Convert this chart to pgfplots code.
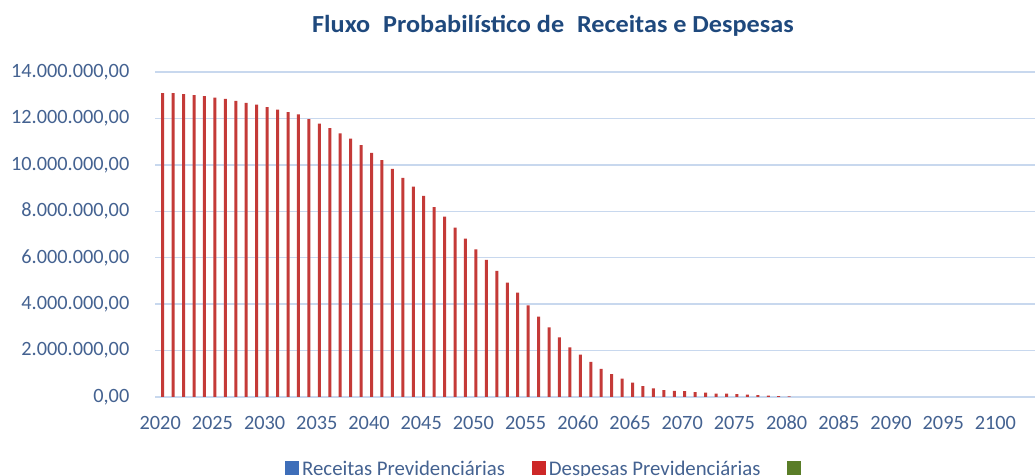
\documentclass[border=0pt]{standalone}
\usepackage{fontspec}
\setmainfont{Carlito}
\usepackage{graphicx}
\usepackage{pgfplots}
\pgfplotsset{compat=1.18}
\definecolor{titleblue}{RGB}{31,73,125}
\definecolor{tickblue}{RGB}{68,98,145}
\definecolor{gridblue}{RGB}{200,216,238}
\definecolor{barred}{RGB}{196,58,56}
\definecolor{legblue}{RGB}{62,110,185}
\definecolor{legred}{RGB}{205,40,40}
\definecolor{leggreen}{RGB}{90,125,40}
\begin{document}
\begin{tikzpicture}
\useasboundingbox (0pt,0pt) rectangle (1035pt,476pt);
\clip (0pt,0pt) rectangle (1035pt,476pt);
\fill[white] (0pt,0pt) rectangle (1035pt,476pt);
\node[anchor=base west, inner sep=0pt, font=\bfseries\fontsize{24.5}{26}\selectfont, text=titleblue] at (312pt,443.7pt) {\scalebox{1.07}[1]{Fluxo\hspace{12pt}Probabilístico\hspace{5.5pt}de\hspace{12pt}Receitas e Despesas}};
\begin{axis}[
  at={(155pt,79pt)}, anchor=south west,
  scale only axis, width=880pt, height=325pt,
  xmin=2019.5, xmax=2103.79, ymin=0, ymax=14000000,
  ybar, bar width=3pt,
  axis line style={draw=none},
  major tick length=0pt,
  ytick={0,2000000,4000000,6000000,8000000,10000000,12000000,14000000},
  xtick={2020,2025,...,2100},
  ymajorgrids, grid style={gridblue, line width=1.5pt},
  scaled y ticks=false,
  tick label style={font=\fontsize{20.3}{21}\selectfont, text=tickblue},
  yticklabel style={anchor=east, inner sep=0pt, xshift=-25.5pt,
    /pgf/number format/.cd, fixed, fixed zerofill, precision=2, 1000 sep={.}, dec sep={,}, assume math mode=true},
  xticklabel style={anchor=base, inner sep=0pt, yshift=-32.5pt,
    /pgf/number format/.cd, 1000 sep={}, assume math mode=true},
  legend columns=3,
  legend style={draw=none, fill=none, inner sep=0pt, at={(0.1477,-0.2214)}, anchor=west,
    font=\fontsize{20.8}{21}\selectfont, text=tickblue,
    nodes={inner sep=3pt},
    /tikz/every even column/.append style={column sep=24pt}},
  legend image code/.code={\fill[#1] (0pt,-6pt) rectangle (14pt,8pt);},
]
\addplot[forget plot, fill=barred, draw=none] coordinates {
(2020,13090000) (2021,13090000) (2022,13050000) (2023,13000000) (2024,12960000)
(2025,12900000) (2026,12840000) (2027,12760000) (2028,12670000) (2029,12590000)
(2030,12490000) (2031,12380000) (2032,12270000) (2033,12170000) (2034,11970000)
(2035,11780000) (2036,11580000) (2037,11360000) (2038,11130000) (2039,10850000)
(2040,10520000) (2041,10200000) (2042,9830000) (2043,9440000) (2044,9060000)
(2045,8660000) (2046,8180000) (2047,7770000) (2048,7300000) (2049,6820000)
(2050,6360000) (2051,5910000) (2052,5430000) (2053,4930000) (2054,4500000)
(2055,3950000) (2056,3460000) (2057,3000000) (2058,2570000) (2059,2140000)
(2060,1820000) (2061,1510000) (2062,1210000) (2063,990000) (2064,790000)
(2065,620000) (2066,470000) (2067,370000) (2068,300000) (2069,260000)
(2070,250000) (2071,210000) (2072,190000) (2073,150000) (2074,140000)
(2075,120000) (2076,100000) (2077,80000) (2078,60000) (2079,40000)
(2080,30000)
};
\addlegendimage{fill=legblue, draw=none}
\addlegendentry{Receitas Previdenciárias}
\addlegendimage{fill=legred, draw=none}
\addlegendentry{Despesas Previdenciárias}
\addlegendimage{fill=leggreen, draw=none}
\addlegendentry{}
\end{axis}
\end{tikzpicture}
\end{document}
